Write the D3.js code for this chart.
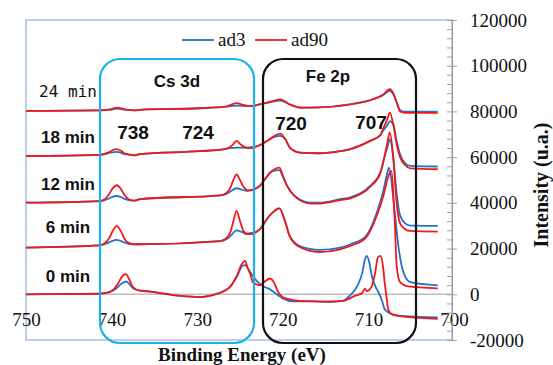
<!DOCTYPE html>
<html>
<head>
<meta charset="utf-8">
<script src="https://cdn.jsdelivr.net/npm/d3@7/dist/d3.min.js"></script>
<style>
  body { margin: 0; background: #fff; }
  svg { display: block; }
</style>
</head>
<body>
<div id="viz"></div>
<script>
// binding energy (eV) / intensity pairs, one array per curve
const ad3_0min = [[750,0],[746,100],[741.4,400],[740.5,700],[739.8,1700],[739.3,3100],[738.8,4800],[738.3,5600],[737.7,3500],[737.3,2200],[735.5,1200],[732,-700],[729.7,-1200],[727.9,0],[727.1,1000],[726.2,3100],[725.4,7500],[724.7,12500],[724.4,12800],[723.8,9600],[723,5700],[722.3,3500],[721.5,2200],[720.7,0],[720,-1800],[718.8,-3100],[716.5,-3000],[714.5,-3400],[713,-2900],[712.2,-700],[711.3,3600],[710.7,9600],[710.4,15300],[710.2,16800],[709.9,14000],[709.6,8000],[709.2,3600],[708.9,1400],[708.4,-2900],[708.1,-6600],[707.5,-8300],[706.9,-9200],[705.7,-9600],[701.9,-10100]];
const ad90_0min = [[750,0],[746,100],[741.4,200],[740.5,700],[739.8,2000],[739.3,4400],[738.9,7000],[738.6,8500],[738.3,8800],[738,7000],[737.5,3100],[736.7,1500],[735.5,1200],[732,-700],[729.7,-1200],[727.9,0],[727.1,1000],[726.2,3100],[725.4,7900],[724.8,13100],[724.4,14600],[724.1,11500],[723.8,8800],[723.5,5300],[723.1,4400],[722.7,3900],[722.3,5000],[721.5,6900],[721,5000],[720.6,1400],[720,-1300],[719.2,-2200],[718,-2900],[715.7,-3200],[713,-2900],[711.6,-700],[710.7,700],[710.4,2500],[710.2,1400],[709.6,3600],[709.2,9600],[708.9,16200],[708.6,16800],[708.3,12400],[708.1,5100],[707.8,-3600],[707.7,-6600],[707.2,-8800],[705.7,-9800],[701.9,-10800]];

const ad3_6min = [[750,20400],[741.4,21400],[740.8,21900],[740.3,22700],[739.9,23400],[739.4,23800],[738.9,23300],[738.4,22500],[737.9,22000],[737.3,21900],[736.7,21900],[727.3,23300],[726.5,24300],[726,26000],[725.4,28000],[724.8,27300],[724.3,26600],[723.8,26700],[722.7,28400],[721.7,33700],[720.4,37600],[719.7,31500],[719.2,25500],[718,21100],[715.7,19400],[713.3,20400],[712.1,21900],[710.3,25500],[709,35900],[708.3,44600],[707.8,53000],[707.6,55400],[707,38600],[706.5,21100],[705.9,9600],[705.1,5300],[701.9,3900]];
const ad90_6min = [[750,20400],[741.4,21400],[740.8,22300],[740.3,24500],[739.9,27500],[739.4,29900],[738.9,27500],[738.5,24300],[738,22500],[737.3,21900],[736.7,21900],[727.3,23300],[726.6,24500],[726.1,27500],[725.8,31500],[725.4,36500],[725,32000],[724.6,27800],[724.2,26300],[723.8,26300],[722.7,28400],[721.7,33700],[720.4,37600],[719.7,31500],[719.2,25500],[718,20600],[715.7,18500],[713.3,19700],[712.1,21200],[710.3,24700],[709,34600],[708.3,42400],[707.7,51200],[707.35,54000],[706.9,29900],[706.7,12400],[706.3,5300],[705.5,3600],[701.9,2600]];

const ad3_12min = [[750,40100],[741.4,40800],[740.8,41200],[740.3,41900],[739.9,42600],[739.4,43000],[738.9,42500],[738.4,41600],[737.9,41100],[737.3,41000],[736.7,41600],[727.3,43300],[726.5,44000],[726,45300],[725.4,46400],[724.8,45800],[724.3,45300],[724.1,45200],[722.7,47400],[722.1,50300],[721.3,53800],[720.4,54300],[720,51500],[719.5,47400],[718.6,43000],[716.8,40100],[715.7,40100],[713.3,41600],[712.1,42400],[709.8,47400],[708.6,53400],[708.1,60500],[707.8,64000],[707.5,67800],[707.1,60000],[706.7,44000],[706.3,34500],[705.7,31000],[705.1,30000],[701.9,29900]];
const ad90_12min = [[750,40100],[741.4,40800],[740.8,41600],[740.3,43800],[739.9,46200],[739.4,47700],[738.9,46000],[738.5,43500],[738,41600],[737.3,41000],[736.7,41600],[727.3,43300],[726.6,44300],[726.1,46800],[725.8,49800],[725.4,52500],[725,50000],[724.6,47000],[724.2,45600],[724.1,45500],[722.7,47400],[722.1,50300],[721.3,53800],[720.4,55400],[720,52000],[719.5,47400],[718.6,42800],[716.8,39700],[715.7,39700],[713.3,41200],[712.1,42000],[709.8,47000],[708.6,53000],[708.1,60500],[707.8,66000],[707.5,70800],[707.1,60000],[706.7,40000],[706.3,31000],[705.7,28500],[705.1,27700],[701.9,27400]];

const ad3_18min = [[750,60500],[741.4,61000],[740.4,61700],[739.4,62300],[738.4,61300],[737.3,60800],[736.7,61300],[729.7,62600],[726.8,63500],[726.2,63900],[725.4,64200],[724.5,64100],[723.8,64300],[722.7,65200],[721.7,67400],[720.9,69000],[720.3,69300],[719.7,67800],[719.2,64300],[718,62000],[715.7,61700],[713.3,62600],[712.1,63500],[709.8,67100],[708.6,69600],[708.3,71500],[707.8,74000],[707.5,75800],[707.1,74400],[706.7,67000],[706.3,61300],[705.7,57300],[705.1,56200],[701.9,55900]];
const ad90_18min = [[750,60500],[741.4,61000],[740.4,62000],[739.9,63000],[739.4,63500],[738.9,62800],[738.4,61500],[737.3,60800],[736.7,61300],[729.7,62600],[726.8,63500],[726.2,64300],[725.8,65600],[725.4,67100],[725,65800],[724.5,64500],[723.8,63900],[722.7,65200],[721.7,67400],[720.9,69400],[720.3,70300],[719.7,67800],[719.2,64300],[718,62000],[715.7,61700],[713.3,62600],[712.1,63500],[709.8,67100],[708.6,69600],[708.3,72200],[707.8,76600],[707.5,79500],[707.1,74400],[706.7,65600],[706.3,60000],[705.7,56500],[705.1,55100],[701.9,54700]];

const ad3_24min = [[750,80200],[741.4,80500],[740.2,80700],[739.4,81200],[738.3,80700],[737.3,80500],[736.7,80700],[729.7,81400],[726.8,82000],[725.4,82500],[723.8,82300],[722.7,83100],[721.5,84000],[720.3,84700],[719.2,83100],[718,81700],[715.7,81800],[712.1,83100],[709.8,84900],[708.3,87100],[707.5,89000],[707.1,87500],[706.7,84000],[706.3,80500],[705.7,79900],[701.9,79900]];
const ad90_24min = [[750,80200],[741.4,80500],[740.2,80900],[739.4,81700],[738.3,80800],[737.3,80500],[736.7,80700],[729.7,81400],[726.8,82000],[725.4,83600],[724.5,82700],[723.8,82300],[722.7,83100],[721.5,84200],[720.3,85300],[719.2,83100],[718,81700],[715.7,81800],[712.1,83100],[709.8,84900],[708.3,87300],[707.5,89700],[707.1,88000],[706.7,84000],[706.3,80000],[705.7,79400],[701.9,79400]];

const timeLabels = ["0 min", "6 min", "12 min", "18 min", "24 min"];
const peakLabels = ["738", "724", "720", "707"];
const regionLabels = ["Cs 3d", "Fe 2p"];
const xTicks = [750, 740, 730, 720, 710, 700];
const yTicks = [-20000, 0, 20000, 40000, 60000, 80000, 100000, 120000];
const yMinor = d3.range(-20000, 120001, 4000);

const blue = "#1f74c6", red = "#f21818";

const width = 553, height = 365;
const svg = d3.select("#viz").append("svg")
  .attr("width", width).attr("height", height)
  .style("font-family", "'Liberation Serif', 'Times New Roman', serif");

const x = d3.scaleLinear().domain([750, 700]).range([26, 454]);
const y = d3.scaleLinear().domain([-20000, 120000]).range([340, 20]);
const plotRight = 452;

// plot area frame
svg.append("rect")
  .attr("x", 26).attr("y", 20)
  .attr("width", plotRight - 26).attr("height", 320)
  .attr("fill", "none").attr("stroke", "#a6c1e6").attr("stroke-width", 1.5);

// zero line (horizontal axis)
svg.append("line")
  .attr("x1", 26).attr("x2", plotRight)
  .attr("y1", y(0)).attr("y2", y(0))
  .attr("stroke", "#bdbdbd").attr("stroke-width", 1.5);

// x tick labels
const xAxis = svg.append("g")
  .attr("transform", "translate(0," + y(0) + ")")
  .call(d3.axisBottom(x).tickValues(xTicks).tickSize(0).tickPadding(18));
xAxis.select(".domain").remove();
xAxis.selectAll("text")
  .style("font-family", "'Liberation Serif', serif")
  .style("font-size", "19px").attr("fill", "#111");

// y axis on the right: minor ticks inside, major ticks crossing
const yMinorAxis = svg.append("g")
  .attr("transform", "translate(" + plotRight + ",0)")
  .call(d3.axisLeft(y).tickValues(yMinor).tickSize(5).tickFormat(""));
yMinorAxis.selectAll("line").attr("stroke", "#a0a0a0");
yMinorAxis.select(".domain").attr("stroke", "#a0a0a0").attr("stroke-width", 1.2);

const yAxis = svg.append("g")
  .attr("transform", "translate(" + plotRight + ",0)")
  .call(d3.axisRight(y).tickValues(yTicks).tickSize(5).tickPadding(13).tickFormat(d => String(d)));
yAxis.select(".domain").remove();
yAxis.selectAll("line").attr("stroke", "#a0a0a0");
yAxis.selectAll("text")
  .style("font-family", "'Liberation Serif', serif")
  .style("font-size", "19px").attr("fill", "#111");

// spectra
const line = d3.line()
  .x(d => x(d[0]))
  .y(d => y(d[1]))
  .curve(d3.curveMonotoneX);

const curves = [
  [ad3_0min, blue], [ad90_0min, red],
  [ad3_6min, blue], [ad90_6min, red],
  [ad3_12min, blue], [ad90_12min, red],
  [ad3_18min, blue], [ad90_18min, red],
  [ad3_24min, blue], [ad90_24min, red]
];

svg.append("g")
  .selectAll("path")
  .data(curves)
  .enter()
  .append("path")
    .attr("d", d => line(d[0]))
    .attr("fill", "none")
    .attr("stroke", d => d[1])
    .attr("stroke-width", 1.8)
    .attr("stroke-linejoin", "round");

// time labels
const timeY = [282, 233, 190, 143, 97];
svg.append("g")
  .selectAll("text")
  .data(timeLabels)
  .enter()
  .append("text")
    .attr("x", 68)
    .attr("y", (d, i) => timeY[i])
    .attr("text-anchor", "middle")
    .style("font-family", (d, i) => i === 4 ? "'DejaVu Sans Mono', monospace" : "'Liberation Sans', Arial, sans-serif")
    .style("font-weight", (d, i) => i === 4 ? "normal" : "bold")
    .style("font-size", (d, i) => i === 4 ? "16px" : "17px")
    .attr("fill", "#111")
    .text(d => d);

// region boxes
svg.append("rect")
  .attr("x", 100).attr("y", 59).attr("width", 154).attr("height", 284)
  .attr("rx", 20).attr("ry", 20)
  .attr("fill", "none").attr("stroke", "#1db1ec").attr("stroke-width", 2.2);
svg.append("rect")
  .attr("x", 263).attr("y", 59).attr("width", 153).attr("height", 284)
  .attr("rx", 20).attr("ry", 20)
  .attr("fill", "none").attr("stroke", "#111").attr("stroke-width", 2.2);

// region and peak labels
const regionPos = [[177, 87], [328, 82]];
svg.append("g")
  .selectAll("text")
  .data(regionLabels)
  .enter()
  .append("text")
    .attr("x", (d, i) => regionPos[i][0])
    .attr("y", (d, i) => regionPos[i][1])
    .attr("text-anchor", "middle")
    .style("font-family", "'Liberation Sans', Arial, sans-serif")
    .style("font-weight", "bold").style("font-size", "17px")
    .attr("fill", "#111")
    .text(d => d);

const peakPos = [[133, 139], [198, 139], [291, 130], [371, 129]];
svg.append("g")
  .selectAll("text")
  .data(peakLabels)
  .enter()
  .append("text")
    .attr("x", (d, i) => peakPos[i][0])
    .attr("y", (d, i) => peakPos[i][1])
    .attr("text-anchor", "middle")
    .style("font-family", "'Liberation Sans', Arial, sans-serif")
    .style("font-weight", "bold").style("font-size", "19px")
    .attr("fill", "#111")
    .text(d => d);

// legend
const legend = svg.append("g").selectAll("g")
  .data([["ad3", blue, 182], ["ad90", red, 255]])
  .enter().append("g");
legend.append("line")
  .attr("x1", d => d[2]).attr("x2", d => d[2] + 32)
  .attr("y1", 40).attr("y2", 40)
  .attr("stroke", d => d[1]).attr("stroke-width", 1.8);
legend.append("text")
  .attr("x", d => d[2] + 36).attr("y", 46)
  .style("font-size", "19px").attr("fill", "#111")
  .text(d => d[0]);

// axis titles
svg.append("text")
  .attr("x", 242).attr("y", 361)
  .attr("text-anchor", "middle")
  .style("font-weight", "bold").style("font-size", "19px")
  .attr("fill", "#111")
  .text("Binding Energy (eV)");
svg.append("text")
  .attr("transform", "translate(548,185) rotate(-90)")
  .attr("text-anchor", "middle")
  .style("font-weight", "bold").style("font-size", "20px")
  .attr("fill", "#111")
  .text("Intensity (u.a.)");
</script>
</body>
</html>
